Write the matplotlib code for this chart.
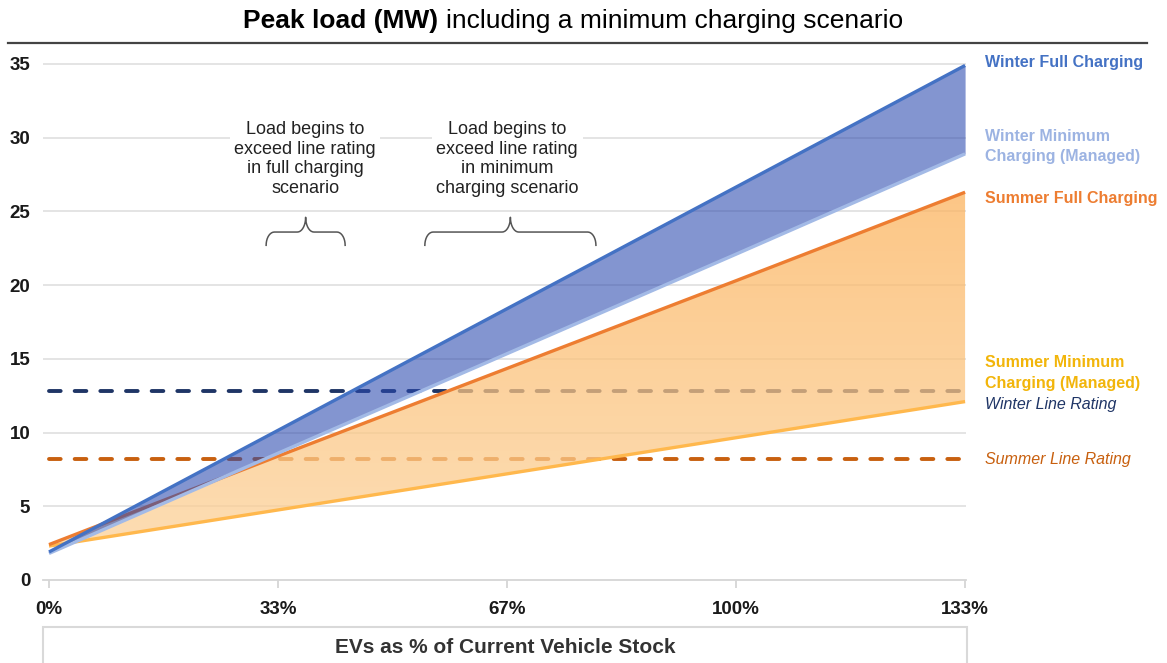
import numpy as np
import matplotlib
matplotlib.use('Agg')
import matplotlib.pyplot as plt
from matplotlib.lines import Line2D
from matplotlib.patches import Rectangle
from matplotlib.colors import to_rgb

plt.rcParams['font.family'] = ['Liberation Sans', 'DejaVu Sans']

# EVs as % of current vehicle stock
ev_share = [0, 33.33, 66.67, 100, 133.33]
tick_labels = ['0%', '33%', '67%', '100%', '133%']

# peak load (MW)
winter_full = [1.9, 10.15, 18.4, 26.65, 34.9]
winter_min = [1.8, 8.6, 15.35, 22.1, 28.9]
summer_full = [2.4, 8.4, 14.35, 20.3, 26.3]
summer_min = [2.3, 4.75, 7.2, 9.65, 12.1]

winter_rating = 12.8
summer_rating = 8.2

c_wfull = '#4472C4'
c_wmin = '#A3BAE6'
c_sfull = '#ED7D31'
c_smin = '#FFB84D'
c_wrate = '#1F3566'
c_srate = '#C8600F'

fig = plt.figure(figsize=(11.67, 6.63), dpi=100)
ax = fig.add_axes([0.0367, 0.1252, 0.7907, 0.785])

# grid
for v in range(5, 40, 5):
    ax.axhline(v, color='#dcdcdc', lw=1.1, zorder=0)
for s in ['top', 'right', 'left']:
    ax.spines[s].set_visible(False)
ax.spines['bottom'].set_color('#d6d6d6')
ax.spines['bottom'].set_linewidth(1.3)

# line ratings (under the fills)
ax.plot([0, 133.33], [winter_rating] * 2, color=c_wrate, lw=2.8,
        dashes=(3.0, 3.6), dash_capstyle='round', zorder=1)
ax.plot([0, 133.33], [summer_rating] * 2, color=c_srate, lw=2.8,
        dashes=(3.0, 3.6), dash_capstyle='round', zorder=1)

# summer band, with a soft vertical gradient
poly = ax.fill_between(ev_share, summer_min, summer_full, color='none',
                       lw=0, zorder=2)
top = np.array(to_rgb('#FBB45E'))
bot = np.array(to_rgb('#FDD29A'))
g = np.linspace(0, 1, 256)[:, None]
img = np.zeros((256, 2, 4))
img[..., :3] = (bot * (1 - g) + top * g)[:, None, :]
img[..., 3] = 0.75
im = ax.imshow(img, extent=[0, 133.33, min(summer_min), max(summer_full)],
               origin='lower', aspect='auto', zorder=2, interpolation='bilinear')
im.set_clip_path(poly.get_paths()[0], transform=ax.transData)

ax.plot(ev_share, summer_min, color=c_smin, lw=2.4, zorder=3,
        solid_capstyle='butt')
ax.plot(ev_share, summer_full, color=c_sfull, lw=2.4, zorder=3,
        solid_capstyle='butt')

# winter band
ax.fill_between(ev_share, winter_min, winter_full, color='#2A48AE',
                alpha=0.58, lw=0, zorder=4)
ax.plot(ev_share, winter_min, color=c_wmin, lw=2.4, zorder=5,
        solid_capstyle='butt')
ax.plot(ev_share, winter_full, color=c_wfull, lw=2.4, zorder=5,
        solid_capstyle='butt')

ax.set_xlim(-0.9, 133.4)
ax.set_ylim(0, 35.3)

# ticks
ax.set_xticks(ev_share)
ax.set_xticklabels(tick_labels)
ax.set_yticks(range(0, 40, 5))
ax.tick_params(axis='x', length=6, width=1.3, color='#d6d6d6', pad=9,
               labelsize=13.5)
ax.tick_params(axis='y', length=0, pad=9, labelsize=13.5)
for lab in ax.get_xticklabels() + ax.get_yticklabels():
    lab.set_fontweight('bold')
    lab.set_color('#1a1a1a')

# right-hand labels
lx = 136.2
ax.text(lx, 35.1, 'Winter Full Charging', color=c_wfull, fontsize=11.5,
        fontweight='bold', va='center', clip_on=False)
ax.text(lx, 29.4, 'Winter Minimum\nCharging (Managed)', color='#9CB3E2',
        fontsize=11.5, fontweight='bold', va='center', linespacing=1.45,
        clip_on=False)
ax.text(lx, 25.9, 'Summer Full Charging', color=c_sfull, fontsize=11.5,
        fontweight='bold', va='center', clip_on=False)
ax.text(lx, 14.05, 'Summer Minimum\nCharging (Managed)', color='#F2B50A',
        fontsize=11.5, fontweight='bold', va='center', linespacing=1.45,
        clip_on=False)
ax.text(lx, 11.9, 'Winter Line Rating', color=c_wrate, fontsize=11.5,
        style='italic', va='center', clip_on=False)
ax.text(lx, 8.2, 'Summer Line Rating', color=c_srate, fontsize=11.5,
        style='italic', va='center', clip_on=False)

# annotations
box = dict(facecolor='white', edgecolor='none', pad=3)
ax.text(37.3, 28.55, 'Load begins to\nexceed line rating\nin full charging\nscenario',
        ha='center', va='center', fontsize=13, linespacing=1.2,
        color='#222222', bbox=box, zorder=6)
ax.text(66.7, 28.55, 'Load begins to\nexceed line rating\nin minimum\ncharging scenario',
        ha='center', va='center', fontsize=13, linespacing=1.2,
        color='#222222', bbox=box, zorder=6)


def brace(x0, x1, y, drop, tip, r=1.2):
    # curly brace, tip pointing up
    xm = (x0 + x1) / 2
    t = np.linspace(0, np.pi / 2, 10)
    tr = t[::-1]
    xs = np.concatenate([x0 + r * (1 - np.cos(t)),
                         xm - r + r * np.sin(t),
                         xm + r - r * np.sin(tr),
                         x1 - r * (1 - np.cos(tr))])
    ys = np.concatenate([y - drop + drop * np.sin(t),
                         y + (tip - y) * (1 - np.cos(t)),
                         y + (tip - y) * (1 - np.cos(tr)),
                         y - drop + drop * np.sin(tr)])
    ax.plot(xs, ys, color='#555555', lw=1.1, zorder=6, clip_on=False)


brace(31.6, 43.1, 23.6, 0.9, 24.6)
brace(54.7, 79.6, 23.6, 0.9, 24.6)

# x axis title box
fig.patches.append(Rectangle((0.0368, -0.02), 0.7918, 0.0743,
                             transform=fig.transFigure, facecolor='white',
                             edgecolor='#d9d9d9', lw=1.5))
fig.text(0.4327, 0.0241, 'EVs as % of Current Vehicle Stock', ha='center',
         va='center', fontsize=15, fontweight='bold', color='#333333')

# title
fig.text(0.3755, 0.968, 'Peak load (MW)', ha='right', va='center',
         fontsize=19, fontweight='bold')
fig.text(0.3822, 0.968, 'including a minimum charging scenario', ha='left',
         va='center', fontsize=19)
fig.lines.append(Line2D([0.007, 0.983], [0.935, 0.935],
                        transform=fig.transFigure, color='#444444', lw=1.6))

plt.savefig('out.png', dpi=100)
